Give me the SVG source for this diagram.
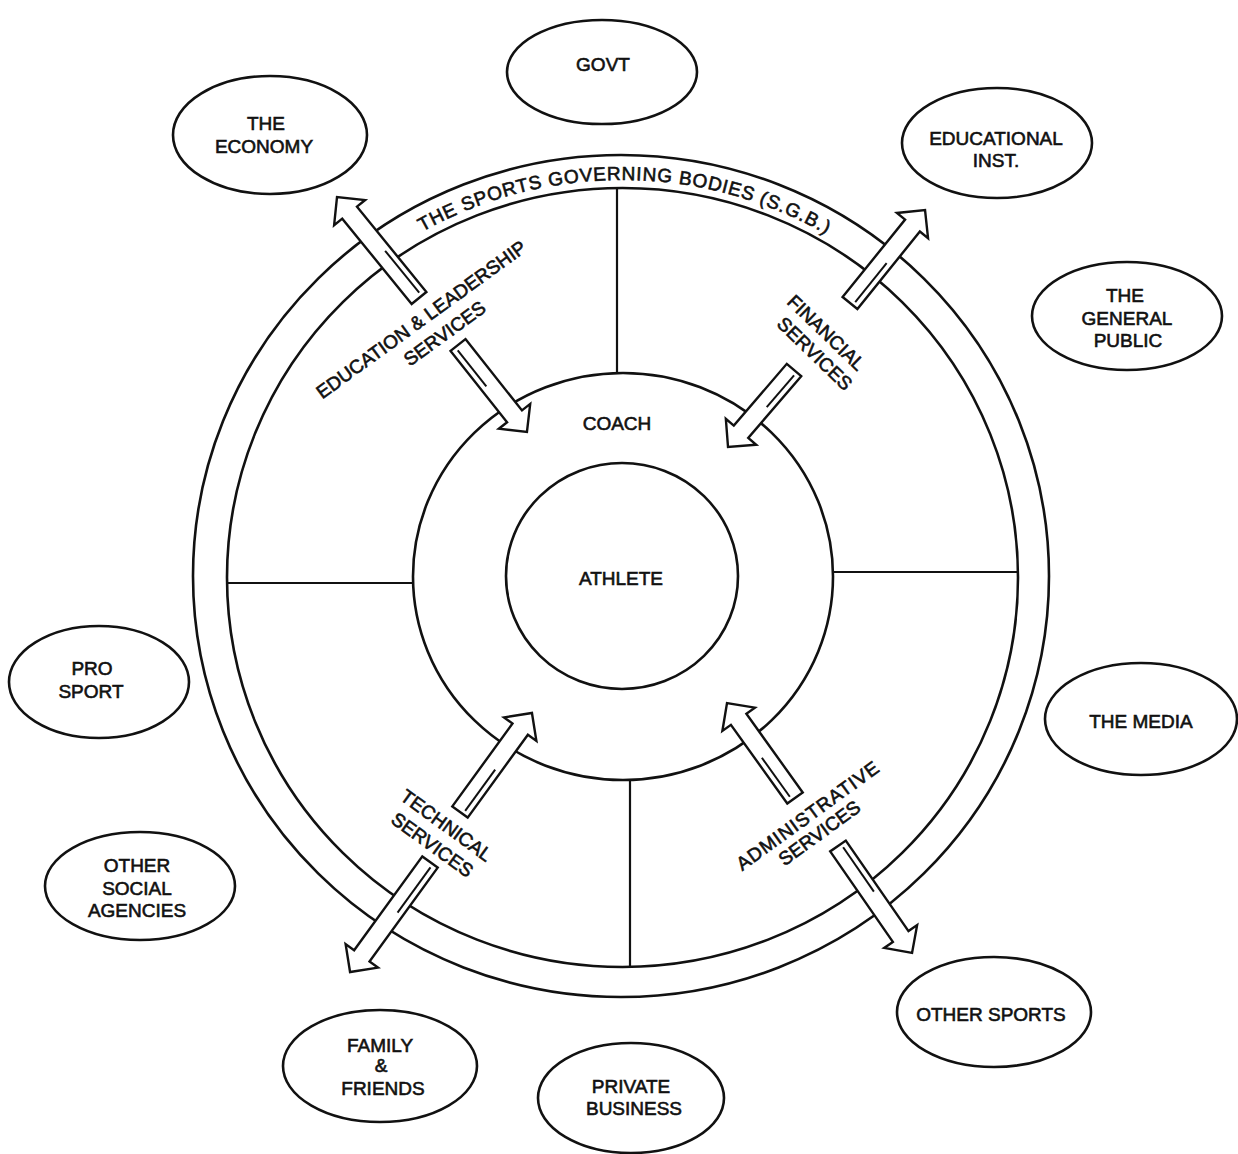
<svg xmlns="http://www.w3.org/2000/svg" width="1238" height="1154" viewBox="0 0 1238 1154">
<defs>
<style>
.ln{fill:none;stroke:#111;stroke-width:2.6}
.dv{fill:none;stroke:#111;stroke-width:2.2}
.nd{fill:#fff;stroke:#111;stroke-width:2.6}
.ar{fill:#fff;stroke:#111;stroke-width:2.4;stroke-linejoin:miter}
.al{fill:none;stroke:#111;stroke-width:2}
text{font-family:"Liberation Sans",Arial,sans-serif;fill:#111;stroke:#111;stroke-width:0.6;font-size:19px}
.c{text-anchor:middle}
</style>
<path id="sgbPath" d="M238,453.6 A404,397 0 0 1 1006,453.6"/>
</defs>
<rect width="1238" height="1154" fill="#fff"/>

<g id="sgb-ring">
<ellipse class="ln" cx="621" cy="576" rx="428" ry="421"/>
<ellipse class="ln" cx="622.5" cy="577.5" rx="395.5" ry="389.5"/>
<line class="dv" x1="617" y1="188" x2="617" y2="373"/>
<line class="dv" x1="227.5" y1="583" x2="414" y2="583"/>
<line class="dv" x1="832" y1="572" x2="1018" y2="572"/>
<line class="dv" x1="630" y1="779" x2="630" y2="967"/>
<text font-size="18.5" textLength="422" lengthAdjust="spacing"><textPath href="#sgbPath" startOffset="506" text-anchor="middle">THE SPORTS GOVERNING BODIES (S.G.B.)</textPath></text>
</g>

<g id="coach">
<ellipse class="ln" cx="623" cy="576.5" rx="210" ry="203.5"/>
<text class="c" x="617" y="430" font-size="20">COACH</text>
</g>

<g id="athlete">
<ellipse class="ln" cx="622" cy="576" rx="116" ry="113"/>
<text class="c" x="621" y="585" font-size="20">ATHLETE</text>
</g>

<g id="connectors">
<g transform="translate(419,298) rotate(-129.1)">
<path class="ar" d="M0,-9.5 L110,-9.5 L110,-20 L130,0 L110,20 L110,9.5 L0,9.5 Z"/>
<line class="al" x1="4" y1="3.5" x2="58" y2="3.5"/>
</g>
<g transform="translate(458,345) rotate(51.6)">
<path class="ar" d="M0,-9.5 L91,-9.5 L91,-20 L111,0 L91,20 L91,9.5 L0,9.5 Z"/>
<line class="al" x1="4" y1="3.5" x2="50" y2="3.5"/>
</g>
<g transform="translate(850,303) rotate(-51.1)">
<path class="ar" d="M0,-9.5 L99.5,-9.5 L99.5,-20 L119.5,0 L99.5,20 L99.5,9.5 L0,9.5 Z"/>
<line class="al" x1="4" y1="3.5" x2="54" y2="3.5"/>
</g>
<g transform="translate(794,370) rotate(130.6)">
<path class="ar" d="M0,-9.5 L81.4,-9.5 L81.4,-20 L101.4,0 L81.4,20 L81.4,9.5 L0,9.5 Z"/>
<line class="al" x1="4" y1="-3.5" x2="46" y2="-3.5"/>
</g>
<g transform="translate(460,812) rotate(-54)">
<path class="ar" d="M0,-9.5 L102.4,-9.5 L102.4,-20 L122.4,0 L102.4,20 L102.4,9.5 L0,9.5 Z"/>
<line class="al" x1="4" y1="3.5" x2="55" y2="3.5"/>
</g>
<g transform="translate(430,862) rotate(126)">
<path class="ar" d="M0,-9.5 L116,-9.5 L116,-20 L136,0 L116,20 L116,9.5 L0,9.5 Z"/>
<line class="al" x1="4" y1="-3.5" x2="60" y2="-3.5"/>
</g>
<g transform="translate(795,798) rotate(-125.6)">
<path class="ar" d="M0,-9.5 L96.8,-9.5 L96.8,-20 L116.8,0 L96.8,20 L96.8,9.5 L0,9.5 Z"/>
<line class="al" x1="4" y1="-3.5" x2="52" y2="-3.5"/>
</g>
<g transform="translate(838,846) rotate(55.3)">
<path class="ar" d="M0,-9.5 L110.1,-9.5 L110.1,-20 L130.1,0 L110.1,20 L110.1,9.5 L0,9.5 Z"/>
<line class="al" x1="4" y1="-3.5" x2="58" y2="-3.5"/>
</g>
</g>

<g id="services-labels">
<g transform="translate(323,399) rotate(-36)">
<text class="c" x="126" y="0">EDUCATION &amp; LEADERSHIP</text>
<text class="c" x="137" y="25">SERVICES</text>
</g>
<g transform="translate(786,303) rotate(44)">
<text x="0" y="0">FINANCIAL</text>
<text x="8" y="23">SERVICES</text>
</g>
<g transform="translate(442.6,830.7) rotate(36)">
<text class="c" x="0" y="0">TECHNICAL</text>
<text class="c" x="0" y="24">SERVICES</text>
</g>
<g transform="translate(811.8,820.7) rotate(-36)">
<text class="c" x="0" y="0" letter-spacing="1">ADMINISTRATIVE</text>
<text class="c" x="-1" y="21">SERVICES</text>
</g>
</g>

<g id="govt">
<ellipse class="nd" cx="602" cy="72" rx="95" ry="52"/>
<text class="c" x="603" y="71">GOVT</text>
</g>
<g id="the-economy">
<ellipse class="nd" cx="270" cy="135" rx="97" ry="59"/>
<text class="c" x="266" y="130">THE</text>
<text class="c" x="264" y="153">ECONOMY</text>
</g>
<g id="educational-inst">
<ellipse class="nd" cx="997" cy="143" rx="95" ry="55"/>
<text class="c" x="996" y="145">EDUCATIONAL</text>
<text class="c" x="996" y="167">INST.</text>
</g>
<g id="the-general-public">
<ellipse class="nd" cx="1127" cy="316" rx="95" ry="54"/>
<text class="c" x="1125" y="302">THE</text>
<text class="c" x="1127" y="325">GENERAL</text>
<text class="c" x="1128" y="347">PUBLIC</text>
</g>
<g id="the-media">
<ellipse class="nd" cx="1141" cy="719" rx="96" ry="56"/>
<text class="c" x="1141" y="728">THE MEDIA</text>
</g>
<g id="other-sports">
<ellipse class="nd" cx="994" cy="1012" rx="97" ry="55"/>
<text class="c" x="991" y="1021">OTHER SPORTS</text>
</g>
<g id="private-business">
<ellipse class="nd" cx="631" cy="1098" rx="93" ry="55"/>
<text class="c" x="631" y="1093">PRIVATE</text>
<text class="c" x="634" y="1115">BUSINESS</text>
</g>
<g id="family-friends">
<ellipse class="nd" cx="380" cy="1066" rx="97" ry="56"/>
<text class="c" x="380" y="1052">FAMILY</text>
<text class="c" x="381" y="1072">&amp;</text>
<text class="c" x="383" y="1095">FRIENDS</text>
</g>
<g id="other-social-agencies">
<ellipse class="nd" cx="140" cy="886" rx="95" ry="54"/>
<text class="c" x="137" y="872">OTHER</text>
<text class="c" x="137" y="895">SOCIAL</text>
<text class="c" x="137" y="917">AGENCIES</text>
</g>
<g id="pro-sport">
<ellipse class="nd" cx="99" cy="682" rx="90" ry="56"/>
<text class="c" x="92" y="675">PRO</text>
<text class="c" x="91" y="698">SPORT</text>
</g>
</svg>
